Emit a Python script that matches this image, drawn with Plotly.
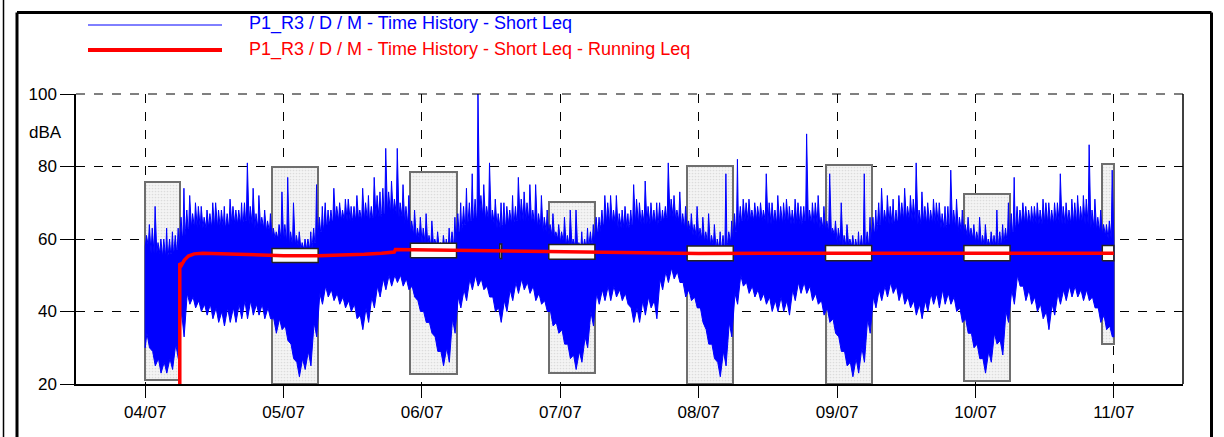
import pandas as pd
import plotly.graph_objects as go

# ---------------- data ----------------
start_time = "2023-07-04 00:00"          # first hour of the record
x_range = ["2023-07-03 12:00", "2023-07-11 12:00"]
day_ticks = ["2023-07-04", "2023-07-05", "2023-07-06", "2023-07-07",
             "2023-07-08", "2023-07-09", "2023-07-10", "2023-07-11"]
day_labels = ["04/07", "05/07", "06/07", "07/07", "08/07", "09/07", "10/07", "11/07"]
y_ticks = [20, 40, 60, 80, 100]

# hourly dense upper edge of the short Leq trace (dBA), 04/07 00h .. 10/07 23h
short_leq_upper = [
    58, 56, 56, 55, 56, 57, 61, 63, 63, 63, 63, 63, 63, 63, 64, 64, 64, 65, 64, 63, 63, 62, 60, 60,
    59, 58, 58, 57, 57, 59, 62, 64, 65, 65, 65, 65, 66, 65, 65, 66, 66, 67, 67, 67, 66, 64, 61, 60,
    59, 58, 58, 57, 57, 59, 62, 64, 65, 66, 66, 65, 64, 63, 64, 64, 65, 65, 65, 64, 63, 62, 61, 60,
    59, 58, 58, 57, 58, 59, 62, 64, 64, 64, 63, 63, 64, 64, 64, 64, 64, 65, 66, 66, 65, 63, 62, 61,
    60, 59, 58, 57, 58, 59, 62, 65, 65, 65, 65, 65, 64, 64, 64, 64, 64, 64, 65, 64, 64, 63, 62, 61,
    59, 58, 58, 57, 58, 59, 62, 64, 64, 64, 65, 65, 65, 65, 64, 64, 64, 64, 63, 64, 63, 62, 61, 60,
    59, 58, 58, 58, 59, 60, 62, 64, 64, 64, 64, 64, 64, 64, 64, 64, 64, 64, 64, 64, 63, 62, 61, 60,
]
# hourly highest spike of the short Leq trace (dBA)
short_leq_peak = [
    64, 69, 60, 63, 62, 63, 74, 72, 70, 69, 68, 70, 68, 69, 71, 68, 70, 81, 74, 72, 68, 67, 62, 73,
    77, 70, 62, 60, 62, 75, 69, 68, 74, 70, 71, 69, 72, 74, 72, 77, 73, 85, 76, 85, 75, 72, 68, 66,
    67, 65, 62, 61, 63, 66, 70, 74, 78, 100, 75, 81, 71, 70, 69, 72, 77, 73, 75, 75, 72, 68, 67, 64,
    66, 68, 68, 62, 63, 64, 66, 72, 72, 72, 68, 67, 75, 70, 76, 70, 70, 68, 81, 72, 73, 69, 67, 69,
    66, 67, 64, 62, 78, 65, 82, 71, 71, 70, 70, 78, 70, 72, 70, 69, 71, 69, 89, 70, 72, 69, 78, 65,
    70, 64, 61, 62, 78, 66, 68, 74, 72, 71, 72, 74, 72, 81, 73, 70, 71, 70, 69, 79, 71, 68, 66, 64,
    66, 64, 62, 68, 64, 70, 77, 68, 69, 69, 70, 71, 70, 70, 78, 70, 71, 72, 72, 86, 71, 68, 64, 79,
]
# hourly second-highest spike (dBA)
short_leq_peak2 = [
    61, 63, 59, 60, 60, 61, 66, 68, 67, 69, 66, 67, 70, 68, 67, 69, 68, 70, 69, 67, 66, 65, 63, 64,
    64, 62, 61, 59, 60, 63, 66, 70, 68, 69, 68, 71, 69, 68, 70, 69, 72, 74, 73, 71, 70, 69, 65, 63,
    63, 61, 60, 59, 60, 62, 67, 69, 70, 71, 72, 69, 68, 67, 70, 68, 69, 71, 70, 68, 67, 66, 64, 62,
    62, 61, 60, 59, 60, 62, 66, 68, 70, 68, 67, 69, 68, 71, 68, 69, 68, 70, 69, 71, 68, 67, 65, 64,
    63, 62, 61, 60, 61, 62, 67, 69, 70, 68, 69, 68, 70, 68, 69, 71, 68, 70, 69, 68, 70, 66, 65, 63,
    63, 61, 60, 60, 61, 62, 66, 70, 68, 69, 68, 70, 69, 71, 68, 69, 68, 70, 67, 69, 68, 66, 64, 63,
    62, 61, 60, 61, 62, 63, 67, 69, 70, 68, 69, 68, 70, 68, 70, 69, 68, 70, 69, 71, 68, 66, 64, 65,
]
# hourly minimum of the short Leq trace (dBA)
short_leq_lower = [
    30, 25, 23, 23, 24, 27, 33, 42, 41, 40, 39, 38, 37, 36, 37, 37, 38, 38, 39, 39, 38, 38, 34, 35,
    32, 27, 22, 24, 25, 33, 42, 44, 43, 42, 41, 40, 38, 35, 37, 41, 44, 46, 47, 48, 47, 46, 44, 40,
    37, 34, 29, 25, 26, 34, 41, 43, 46, 47, 46, 44, 40, 37, 40, 43, 45, 46, 45, 43, 42, 40, 36, 34,
    31, 27, 24, 26, 30, 36, 42, 43, 43, 44, 43, 42, 37, 37, 39, 41, 38, 46, 48, 49, 48, 44, 43, 41,
    37, 31, 27, 22, 25, 33, 42, 47, 45, 44, 43, 42, 40, 40, 40, 39, 43, 45, 45, 43, 42, 39, 37, 34,
    29, 25, 22, 23, 26, 34, 41, 43, 44, 45, 43, 42, 41, 39, 38, 40, 42, 41, 42, 42, 40, 37, 34, 30,
    27, 23, 26, 31, 28, 37, 42, 47, 43, 42, 40, 38, 35, 39, 42, 43, 44, 44, 43, 43, 41, 37, 35, 33,
]
# hourly secondary low (dBA)
short_leq_lower2 = [
    34, 29, 27, 26, 27, 31, 40, 45, 44, 43, 42, 42, 41, 40, 41, 41, 42, 43, 43, 42, 42, 41, 38, 38,
    36, 31, 26, 27, 29, 37, 45, 47, 46, 45, 44, 43, 42, 39, 41, 44, 47, 49, 50, 50, 50, 49, 47, 43,
    40, 37, 33, 29, 30, 38, 44, 46, 49, 50, 49, 47, 44, 41, 43, 46, 48, 49, 48, 47, 45, 43, 40, 37,
    35, 31, 28, 29, 33, 40, 45, 46, 47, 47, 46, 45, 41, 41, 43, 44, 43, 49, 51, 52, 51, 48, 46, 44,
    41, 35, 31, 26, 29, 37, 45, 50, 48, 47, 46, 45, 44, 43, 44, 43, 46, 48, 48, 47, 45, 43, 41, 38,
    33, 29, 26, 27, 30, 38, 44, 46, 47, 48, 47, 46, 44, 43, 42, 43, 45, 45, 46, 45, 44, 41, 38, 34,
    31, 27, 29, 34, 32, 40, 46, 50, 47, 46, 44, 42, 40, 42, 45, 46, 47, 47, 46, 46, 44, 41, 39, 36,
]

# running Leq (hours since start, dBA)
running_leq_hours = [6.0, 6.0, 6.3, 6.8, 7.5, 8.5, 10, 14, 20, 24, 30, 34, 38, 41, 43.2, 43.4,
                     48, 54, 60, 66, 72, 84, 96, 120, 144, 168]
running_leq_values = [20, 53.3, 52.8, 54.2, 55.3, 55.9, 56.1, 55.9, 55.7, 55.4, 55.4, 55.5, 55.8,
                      56.1, 56.4, 57.1, 57.0, 56.8, 56.7, 56.5, 56.3, 56.1, 56.0, 56.1, 56.1, 56.1]

# night periods (22h-06h): min / max ranges and Leq box
night_start = ["2023-07-04 00:00", "2023-07-04 22:00", "2023-07-05 22:00", "2023-07-06 22:00",
               "2023-07-07 22:00", "2023-07-08 22:00", "2023-07-09 22:00", "2023-07-10 22:00"]
night_end = ["2023-07-04 06:00", "2023-07-05 06:00", "2023-07-06 06:00", "2023-07-07 06:00",
             "2023-07-08 06:00", "2023-07-09 06:00", "2023-07-10 06:00", "2023-07-11 00:00"]
night_lmin = [21.2, 20.0, 22.7, 23.0, 20.0, 20.0, 20.9, 31.0]
night_lmax = [75.7, 79.8, 78.5, 70.3, 80.2, 80.4, 72.4, 80.8]
night_box_lo = [None, 53.5, 54.8, 54.4, 54.0, 54.0, 54.0, 54.0]
night_box_hi = [None, 57.4, 58.8, 58.5, 58.1, 58.2, 58.2, 58.2]

# short marker box on 06/07
event_start = ["2023-07-06 13:30"]
event_end = ["2023-07-06 13:50"]
event_lo = [54.6]
event_hi = [58.6]

legend_blue = "P1_R3 / D / M - Time History - Short Leq"
legend_red = "P1_R3 / D / M - Time History - Short Leq - Running Leq"

# ---------------- build ----------------
BLUE = "#0000FF"
RED = "#FF0000"
FONT = "Liberation Sans, Arial, sans-serif"

t0 = pd.Timestamp(start_time)


def at(h):
    return t0 + pd.Timedelta(hours=h)


n = len(short_leq_upper)
# polygon of the dense short-Leq band with spikes
px, py = [at(0)], [short_leq_lower[0]]
for i in range(n):
    up = short_leq_upper[i]
    px += [at(i + 0.02), at(i + 0.22), at(i + 0.42), at(i + 0.55), at(i + 0.72), at(i + 0.9)]
    py += [up, short_leq_peak2[i], up, up, short_leq_peak[i], up]
px.append(at(n))
py.append(short_leq_upper[-1])
px.append(at(n))
py.append(short_leq_lower[-1])
for i in range(n - 1, -1, -1):
    px += [at(i + 0.75), at(i + 0.3)]
    py += [short_leq_lower[i], short_leq_lower2[i]]
px.append(at(0))
py.append(short_leq_lower[0])

fig = go.Figure()

# night range boxes (stippled grey)
ns = pd.to_datetime(night_start)
ne = pd.to_datetime(night_end)
fig.add_trace(go.Bar(
    x=[a + (b - a) / 2 for a, b in zip(ns, ne)],
    y=[hi - lo for lo, hi in zip(night_lmin, night_lmax)],
    base=night_lmin,
    width=[(b - a).total_seconds() * 1000 for a, b in zip(ns, ne)],
    marker=dict(color="#f1f1f1",
                line=dict(color="#6e6e6e", width=2),
                pattern=dict(shape=".", fgcolor="#c4c4c4", bgcolor="#f4f4f4", size=3, solidity=0.25)),
    showlegend=False, hoverinfo="skip",
))

# short Leq band
fig.add_trace(go.Scatter(
    x=px, y=py, mode="lines", fill="toself", fillcolor=BLUE,
    line=dict(color=BLUE, width=1), showlegend=False, hoverinfo="skip",
))

# white Leq boxes
bx, by = [], []
for s, e, lo, hi in zip(night_start, night_end, night_box_lo, night_box_hi):
    if lo is None:
        continue
    bx += [s, e, e, s, s, None]
    by += [lo, lo, hi, hi, lo, None]
for s, e, lo, hi in zip(event_start, event_end, event_lo, event_hi):
    bx += [s, e, e, s, s, None]
    by += [lo, lo, hi, hi, lo, None]
fig.add_trace(go.Scatter(
    x=bx, y=by, mode="lines", fill="toself", fillcolor="#fbfbfb",
    line=dict(color="#222222", width=1.5), showlegend=False, hoverinfo="skip",
))

# running Leq
fig.add_trace(go.Scatter(
    x=[at(h) for h in running_leq_hours], y=running_leq_values, mode="lines",
    line=dict(color=RED, width=3.5), showlegend=False, hoverinfo="skip",
))

# plot geometry (pixels)
W, H = 1224, 437
L, R, T, B = 76, 41, 94, 53
pw, ph = W - L - R, H - T - B


def pxx(x):
    return (x - L) / pw


def pyy(y):
    return (H - B - y) / ph


shapes = [
    # right frame of plot
    dict(type="line", xref="paper", yref="paper", x0=1, x1=1, y0=0, y1=1,
         line=dict(color="black", width=1.5)),
    # top dashed border
    dict(type="line", xref="paper", yref="paper", x0=0, x1=1, y0=1, y1=1,
         line=dict(color="black", width=1, dash="dash")),
    # outer frames
    dict(type="line", xref="paper", yref="paper", x0=pxx(3.5), x1=pxx(3.5), y0=pyy(-5), y1=pyy(460),
         line=dict(color="black", width=1.5)),
    dict(type="line", xref="paper", yref="paper", x0=pxx(17), x1=pxx(17), y0=pyy(12.5), y1=pyy(460),
         line=dict(color="black", width=3)),
    dict(type="line", xref="paper", yref="paper", x0=pxx(17), x1=pxx(1211.5), y0=pyy(12.5), y1=pyy(12.5),
         line=dict(color="black", width=3)),
    dict(type="line", xref="paper", yref="paper", x0=pxx(1211.5), x1=pxx(1211.5), y0=pyy(12.5), y1=pyy(460),
         line=dict(color="black", width=3)),
    # legend samples
    dict(type="line", xref="paper", yref="paper", x0=pxx(88), x1=pxx(222), y0=pyy(25), y1=pyy(25),
         line=dict(color=BLUE, width=1)),
    dict(type="line", xref="paper", yref="paper", x0=pxx(88), x1=pxx(222), y0=pyy(50), y1=pyy(50),
         line=dict(color=RED, width=4)),
]

annotations = [
    dict(text=legend_blue, xref="paper", yref="paper", x=pxx(247), y=pyy(24), xanchor="left",
         yanchor="middle", showarrow=False, font=dict(family=FONT, size=18, color=BLUE)),
    dict(text=legend_red, xref="paper", yref="paper", x=pxx(247), y=pyy(49), xanchor="left",
         yanchor="middle", showarrow=False, font=dict(family=FONT, size=18, color=RED)),
    dict(text="dBA", xref="paper", yref="paper", x=pxx(45), y=pyy(132), xanchor="center",
         yanchor="middle", showarrow=False, font=dict(family=FONT, size=17, color="black")),
]

fig.update_layout(
    width=W, height=H, autosize=False,
    margin=dict(l=L, r=R, t=T, b=B, pad=0),
    paper_bgcolor="white", plot_bgcolor="white",
    barmode="overlay", bargap=0,
    showlegend=False,
    font=dict(family=FONT, size=17, color="black"),
    shapes=shapes, annotations=annotations,
    xaxis=dict(
        type="date", range=x_range,
        tickmode="array", tickvals=day_ticks, ticktext=day_labels,
        ticks="outside", ticklen=12, tickcolor="black", tickwidth=1,
        showgrid=True, gridcolor="black", griddash="dash", gridwidth=1,
        showline=True, linecolor="black", linewidth=1.5, mirror=False,
        zeroline=False, tickfont=dict(family=FONT, size=17, color="black"),
    ),
    yaxis=dict(
        range=[20, 100], tickmode="array", tickvals=y_ticks,
        ticks="outside", ticklen=14, tickcolor="black", tickwidth=1,
        showgrid=True, gridcolor="black", griddash="dash", gridwidth=1,
        showline=True, linecolor="black", linewidth=1.5, mirror=False,
        zeroline=False, tickfont=dict(family=FONT, size=17, color="black"),
    ),
)

fig.write_html("out.html", config={"displayModeBar": False},
               post_script="document.body.style.margin='0';document.body.style.overflow='hidden';")
